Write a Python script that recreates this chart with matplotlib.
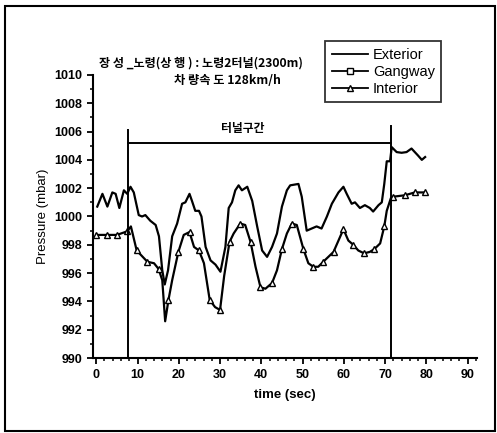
import matplotlib.pyplot as plt
from matplotlib.lines import Line2D
from matplotlib.patches import Rectangle
from matplotlib.ticker import MultipleLocator

plt.rcParams['font.family'] = ['Liberation Sans', 'Noto Sans CJK KR', 'DejaVu Sans']

# Exterior pressure (mbar)
ext_t = [0.25, 1.5, 2.7, 3.9, 4.7, 5.6, 6.7, 7.5, 8.3, 9.1, 10.3, 11.1, 11.9, 13.1, 14.4,
         15.2, 16.0, 16.6, 17.4, 18.4, 19.6, 20.8, 21.6, 22.6, 23.2, 24.0, 24.9, 25.5,
         26.5, 27.7, 28.9, 30.1, 31.3, 32.1, 32.9, 33.7, 34.5, 35.3, 36.6, 37.8, 39.0,
         40.2, 41.4, 42.6, 43.8, 45.0, 46.2, 47.0, 49.0, 49.8, 51.0, 52.2, 53.4, 54.6,
         55.9, 57.1, 58.7, 59.9, 60.7, 61.9, 62.7, 63.9, 65.1, 66.3, 67.1, 68.4, 69.2,
         69.8, 70.4, 71.2, 71.6, 72.8, 74.0, 75.2, 76.4, 77.2, 78.0, 78.9, 79.7]
ext_p = [1000.7, 1001.6, 1000.7, 1001.7, 1001.6, 1000.6, 1001.85, 1001.6, 1002.1, 1001.7,
         1000.1, 1000.0, 1000.1, 999.7, 999.4, 998.6, 996.2, 995.2, 996.2, 998.6, 999.5,
         1000.9, 1001.0, 1001.6, 1001.1, 1000.4, 1000.4, 1000.0, 997.85, 996.9, 996.6,
         996.1, 997.85, 1000.6, 1001.0, 1001.85, 1002.2, 1001.85, 1002.1, 1001.1, 999.3,
         997.6, 997.15, 997.85, 998.8, 1000.7, 1001.85, 1002.2, 1002.3, 1001.4, 999.0,
         999.15, 999.3, 999.15, 1000.0, 1000.9, 1001.7, 1002.1, 1001.6, 1000.9, 1001.0,
         1000.6, 1000.8, 1000.6, 1000.35, 1000.8, 1001.0, 1002.3, 1003.9, 1003.9, 1004.9,
         1004.55, 1004.5, 1004.55, 1004.8, 1004.55, 1004.3, 1004.0, 1004.2]

# Interior pressure (mbar), triangle markers where int_mark is True
int_t = [0, 2.5, 5, 7.5, 8.4, 9.8, 12.4, 14.0, 15.1, 16.0, 16.7, 17.5, 18.4, 19.9, 21.2,
         22.6, 23.7, 24.9, 26.1, 27.5, 28.8, 30.0, 31.0, 32.3, 33.3, 34.9, 36.1, 37.4,
         38.6, 39.8, 41.0, 42.6, 43.8, 45.0, 46.2, 47.4, 48.6, 50.2, 51.4, 52.6, 53.8,
         55.0, 57.5, 58.7, 59.9, 61.1, 62.3, 63.5, 64.9, 66.3, 67.4, 68.8, 69.8, 70.4,
         71.4, 72.0, 74.8, 77.2, 79.7]
int_p = [998.7, 998.7, 998.7, 998.95, 999.3, 997.6, 996.8, 996.7, 996.3, 995.5, 992.6,
         994.1, 995.5, 997.5, 998.7, 998.9, 997.85, 997.6, 996.7, 994.1, 993.6, 993.4,
         995.8, 998.2, 998.8, 999.5, 999.4, 998.2, 996.45, 995.0, 994.9, 995.3, 996.2,
         997.7, 998.8, 999.5, 999.4, 997.7, 996.7, 996.45, 996.45, 996.8, 997.5, 998.3,
         999.1, 998.3, 998.0, 997.6, 997.4, 997.5, 997.7, 998.1, 999.3, 1000.4, 1001.3,
         1001.4, 1001.5, 1001.7, 1001.7]
int_mark = [True, True, True, True, False, True, True, False, True, False, False,
            True, False, True, False, True, False, True, False, True, False, True,
            False, True, False, True, False, True, False, True, False, True, False,
            True, False, True, False, True, False, True, False, True, True, False,
            True, False, True, False, True, False, True, False, True, False, False,
            True, True, True, True]

# tunnel section
t_in, t_out = 7.7, 71.4
sec_level = 1005.2

fig = plt.figure(figsize=(4.97, 4.33), dpi=100)
ax = fig.add_axes([0.187, 0.173, 0.773, 0.654])

ax.plot(ext_t, ext_p, color='black', linewidth=1.6)
ax.plot(int_t, int_p, color='black', linewidth=1.6, marker='^', markersize=5,
        markerfacecolor='white', markeredgewidth=1.0, markevery=int_mark)

ax.plot([t_in, t_in], [990, 1006.1], color='black', linewidth=1.4)
ax.plot([t_out, t_out], [990, 1006.4], color='black', linewidth=1.4)
ax.plot([t_in, t_out], [sec_level, sec_level], color='black', linewidth=1.4)
ax.text(35.6, 1005.75, '터널구간', fontsize=8.5, fontweight='bold', ha='center',
        va='bottom', family=['Noto Sans CJK KR'])

ax.set_xlim(-0.8, 92.3)
ax.set_ylim(990, 1010)
ax.xaxis.set_major_locator(MultipleLocator(10))
ax.xaxis.set_minor_locator(MultipleLocator(2))
ax.yaxis.set_major_locator(MultipleLocator(2))
ax.yaxis.set_minor_locator(MultipleLocator(1))
ax.spines['top'].set_visible(False)
ax.spines['right'].set_visible(False)
for s in ('left', 'bottom'):
    ax.spines[s].set_linewidth(1.5)
ax.tick_params(which='major', direction='out', length=4, width=1.3, labelsize=9)
ax.tick_params(which='minor', direction='out', length=2.5, width=1.1)
for lab in ax.get_xticklabels() + ax.get_yticklabels():
    lab.set_fontweight('bold')

ax.set_xlabel('time (sec)', fontsize=9.5, fontweight='bold', labelpad=6)
ax.set_ylabel('Pressure (mbar)', fontsize=9.5, labelpad=4)

fig.text(0.405, 0.854, '장 성 _노령(상 행 ) : 노령2터널(2300m)', fontsize=8.7, fontweight='bold',
         ha='center', va='center', family=['Noto Sans CJK KR'])
fig.text(0.458, 0.813, '차 량속 도 128km/h', fontsize=8.8, fontweight='bold',
         ha='center', va='center', family=['Noto Sans CJK KR'])

handles = [
    Line2D([], [], color='black', linewidth=1.3),
    Line2D([], [], color='black', linewidth=1.3, marker='s', markersize=5,
           markerfacecolor='white'),
    Line2D([], [], color='black', linewidth=1.3, marker='^', markersize=5,
           markerfacecolor='white'),
]
leg = fig.legend(handles, ['Exterior', 'Gangway', 'Interior'], loc='upper left',
                 bbox_to_anchor=(0.64, 0.921), fontsize=10.5, frameon=True,
                 fancybox=False, edgecolor='black', handlelength=2.5,
                 handletextpad=0.3, labelspacing=0.2, borderpad=0.45)
leg.get_frame().set_linewidth(1.3)

fig.patches.append(Rectangle((5 / 497, 2 / 433), 490 / 497, 425 / 433, fill=False,
                             edgecolor='black', linewidth=1.5,
                             transform=fig.transFigure, figure=fig))

fig.savefig('out.png', dpi=100)
